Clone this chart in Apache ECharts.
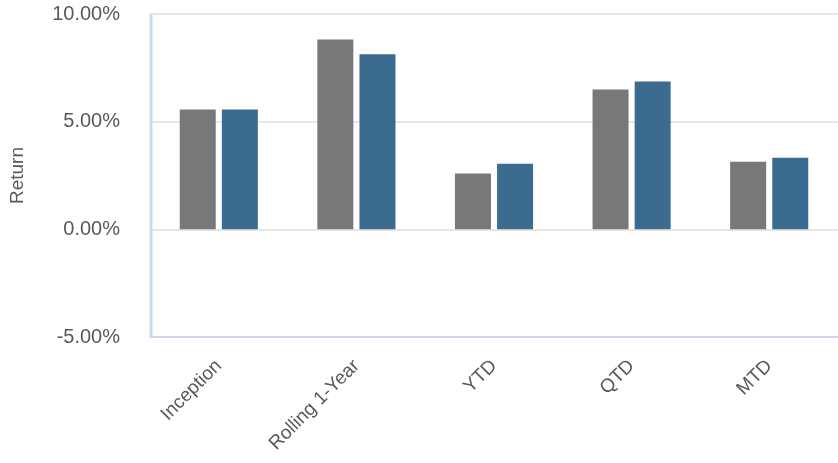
<!DOCTYPE html>
<html>
<head>
<meta charset="utf-8">
<script src="https://cdn.jsdelivr.net/npm/echarts@6/dist/echarts.min.js"></script>
<style>
html,body{margin:0;padding:0;background:#fff;}
#chart{width:838px;height:463px;}
</style>
</head>
<body>
<div id="chart"></div>
<script>
var categories = ['Inception', 'Rolling 1-Year', 'YTD', 'QTD', 'MTD'];
var seriesA = [5.56, 8.81, 2.59, 6.49, 3.14];
var seriesB = [5.57, 8.13, 3.05, 6.86, 3.33];
var yTicks = { min: -5, max: 10, interval: 5 };

var FONT = 'Liberation Sans, Arial, sans-serif';
var chart = echarts.init(document.getElementById('chart'));
chart.setOption({
  animation: false,
  grid: { left: 150, right: 0, top: 14, bottom: 126, containLabel: false },
  xAxis: {
    type: 'category',
    data: categories,
    axisLine: { show: false },
    axisTick: { show: false },
    axisLabel: {
      rotate: 45,
      margin: 26,
      color: '#595959',
      fontSize: 19,
      fontFamily: FONT,
      interval: 0
    },
    splitLine: { show: false }
  },
  yAxis: {
    type: 'value',
    min: yTicks.min,
    max: yTicks.max,
    interval: yTicks.interval,
    name: 'Return',
    nameLocation: 'middle',
    nameGap: 123,
    nameRotate: 90,
    nameTextStyle: { color: '#595959', fontSize: 19, fontFamily: FONT },
    axisLine: { show: false },
    axisTick: { show: false },
    axisLabel: {
      margin: 30,
      color: '#595959',
      fontSize: 20,
      fontFamily: FONT,
      formatter: function (v) { return v.toFixed(2) + '%'; }
    },
    splitLine: { show: true, lineStyle: { color: '#e6e6e6', width: 2 } }
  },
  series: [
    {
      type: 'bar',
      data: seriesA,
      barWidth: 36,
      barGap: '17%',
      itemStyle: { color: '#787878' }
    },
    {
      type: 'bar',
      data: seriesB,
      barWidth: 36,
      barGap: '17%',
      itemStyle: { color: '#3b6c8f' }
    }
  ]
});
var p0 = chart.convertToPixel({ gridIndex: 0 }, [0, yTicks.min]);
var p1 = chart.convertToPixel({ gridIndex: 0 }, [0, yTicks.max]);
chart.setOption({
  graphic: [
    { type: 'line', shape: { x1: 151, y1: p1[1], x2: 151, y2: p0[1] + 1 }, style: { stroke: '#cfd7ee', lineWidth: 3 }, z: 10 },
    { type: 'line', shape: { x1: 150, y1: p0[1], x2: 838, y2: p0[1] }, style: { stroke: '#cfd7ee', lineWidth: 2 }, z: 10 }
  ]
});
</script>
</body>
</html>
